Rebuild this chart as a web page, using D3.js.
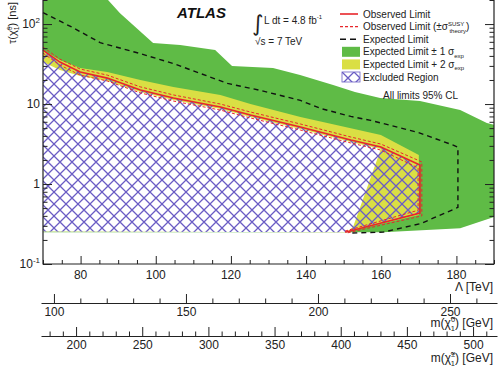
<!DOCTYPE html>
<html>
<head>
<meta charset="utf-8">
<script src="https://cdn.jsdelivr.net/npm/d3@7"></script>
<style>
body { margin: 0; background: #fff; }
svg { display: block; font-family: Arial, "Liberation Sans", sans-serif; }
</style>
</head>
<body>
<div id="chart"></div>
<script>
// Observed limit (red solid) - Lambda [TeV] and tau [ns]
const observedLambda = [70, 74.5, 79.9, 87.1, 95.9, 104.7, 117.2, 125.2, 138.5, 151.9, 159.9, 170.3, 170.3, 150.4];
const observedTau    = [47.3, 33.5, 25.1, 21.1, 15.0, 11.9, 9.17, 7.29, 5.16, 3.55, 2.9, 1.73, 0.434, 0.25];

// Observed limit +/- theory (red dashed)
const theoryUpLambda   = [70, 74.5, 79.9, 87.1, 95.9, 104.7, 117.2, 125.2, 138.5, 151.9, 159.9, 170.8, 170.8, 151];
const theoryUpTau      = [51.5, 36.5, 27.4, 23.0, 16.4, 13.0, 10.0, 7.95, 5.63, 3.87, 3.16, 1.89, 0.40, 0.245];
const theoryDownLambda = [70, 74.5, 79.9, 87.1, 95.9, 104.7, 117.2, 125.2, 138.5, 151.9, 159.9, 169.8, 169.8, 150];
const theoryDownTau    = [43.4, 30.7, 23.0, 19.4, 13.8, 10.9, 8.4, 6.7, 4.73, 3.26, 2.66, 1.59, 0.47, 0.255];

// Expected limit (black dashed)
const expectedLambda = [70, 78, 85.2, 95.9, 104.7, 111.9, 119.1, 127.9, 138.5, 143.9, 151.9, 157.2, 169.7, 179.3, 180.4, 180.4, 170.5, 160.5, 151.9];
const expectedTau    = [139, 90, 58.6, 42.7, 32.1, 24.1, 18.1, 14.8, 11.1, 8.8, 7.0, 6.25, 4.43, 3.05, 2.88, 0.51, 0.32, 0.25, 0.244];

// Expected +/- 1 sigma band outline (green)
const greenLambda = [70, 87.3, 90.5, 99.3, 106.5, 115.8, 120.3, 131.2, 138.4, 147.2, 153.0, 159.7, 170.3, 181.0, 188.1, 190, 190, 181, 160.5, 150.4, 70];
const greenTau    = [200, 200, 137, 57.9, 54.6, 47.3, 29.9, 28.2, 23.0, 17.3, 14.1, 11.9, 10.9, 8.4, 5.8, 5.5, 0.387, 0.28, 0.25, 0.25, 0.25];

// Expected +/- 2 sigma band outline (yellow)
const yellowLambda = [70, 74.5, 79.9, 87.1, 95.9, 104.7, 117.2, 125.2, 138.5, 151.9, 159.9, 170, 170, 150.4, 70];
const yellowTau    = [47.3, 35.5, 28.2, 25.1, 20.0, 16.3, 13.0, 10.0, 6.9, 5.0, 4.1, 2.3, 0.41, 0.25, 0.255];

// inner region not covered by the bands (white)
const innerLambda = [70, 74.5, 79.9, 87.1, 95.9, 104.7, 117.2, 125.2, 138.5, 151.9, 159.9, 152.5, 150.7, 70];
const innerTau    = [33.5, 26.6, 22.4, 19.4, 14.1, 11.2, 8.66, 6.88, 4.87, 3.35, 2.74, 0.29, 0.25, 0.255];

// axis ticks
const lambdaTicks = [80, 100, 120, 140, 160, 180];
const neutralinoTicks = [100, 150, 200, 250];
const charginoTicks = [200, 250, 300, 350, 400, 450, 500];
const tauTicks = [0.1, 1, 10, 100];
const tauTickLabels = [["10", "-1"], ["1", ""], ["10", ""], ["10", "2"]];

const legendLabels = ["Observed Limit", "Observed Limit", "Expected Limit", "Expected Limit \u00b1 1 \u03c3", "Expected Limit  + 2 \u03c3", "Excluded Region"];

const W = 502, H = 371;
const green = "#5fbb46", yellow = "#dadf44", red = "#e8262b", hatchColor = "#6a5cc4";

const svg = d3.select("#chart").append("svg")
    .attr("width", W)
    .attr("height", H);

const x = d3.scaleLinear().domain([70, 190]).range([43, 494]);
const y = d3.scaleLog().domain([0.1, 200]).range([264, 0]);
const mNeutralino = d3.scaleLinear().domain([95.1, 267.8]).range([41, 497]);
const mChargino = d3.scaleLinear().domain([173.5, 518.1]).range([41, 497]);

const defs = svg.append("defs");
const pat = defs.append("pattern")
    .attr("id", "hatch")
    .attr("patternUnits", "userSpaceOnUse")
    .attr("width", 12)
    .attr("height", 12);
pat.append("path")
    .attr("d", "M0,6L6,0L12,6L6,12Z")
    .attr("fill", "none")
    .attr("stroke", hatchColor)
    .attr("stroke-width", 1.3);

const zip = (lx, ly) => lx.map((v, i) => [v, ly[i]]);
const line = d3.line().x(d => x(d[0])).y(d => y(d[1]));

const plot = svg.append("g");
plot.append("path").attr("d", line(zip(greenLambda, greenTau)) + "Z").attr("fill", green);
plot.append("path").attr("d", line(zip(yellowLambda, yellowTau)) + "Z").attr("fill", yellow);
plot.append("path").attr("d", line(zip(innerLambda, innerTau)) + "Z").attr("fill", "#fff");
plot.append("path")
    .attr("d", line(zip(observedLambda, observedTau).concat([[70, 0.255]])) + "Z")
    .attr("fill", "url(#hatch)");

plot.append("path")
    .attr("d", line(zip(expectedLambda, expectedTau)))
    .attr("fill", "none")
    .attr("stroke", "#111")
    .attr("stroke-width", 1.4)
    .attr("stroke-dasharray", "5,4");

[[theoryUpLambda, theoryUpTau], [theoryDownLambda, theoryDownTau]].forEach(([lx, ly]) => {
    plot.append("path")
        .attr("d", line(zip(lx, ly)))
        .attr("fill", "none")
        .attr("stroke", red)
        .attr("stroke-width", 1)
        .attr("stroke-dasharray", "3,2");
});

plot.append("path")
    .attr("d", line(zip(observedLambda, observedTau)))
    .attr("fill", "none")
    .attr("stroke", red)
    .attr("stroke-width", 1.6);

// frame + main axes
const x0 = x.range()[0], x1 = x.range()[1], yb = y.range()[0];
const frame = svg.append("g").attr("stroke", "#222").attr("stroke-width", 1.2).attr("fill", "none");
frame.append("path").attr("d", `M${x0},0V${yb}H${x1}V0`);

const lambdaMinor = d3.range(70, 191, 5).filter(v => !lambdaTicks.includes(v));
const tauMinor = [];
[0.1, 1, 10, 100].forEach(dec => d3.range(2, 10).forEach(k => { if (k * dec <= 200) tauMinor.push(k * dec); }));

function tickAxis(axis, transform) {
    const g = svg.append("g").attr("transform", transform).call(axis);
    g.select(".domain").remove();
    g.selectAll("line").attr("stroke", "#222").attr("stroke-width", 1);
    g.selectAll("text").remove();
    return g;
}

tickAxis(d3.axisBottom(x).tickValues(lambdaTicks).tickSize(-8), `translate(0,${yb})`);
tickAxis(d3.axisBottom(x).tickValues(lambdaMinor).tickSize(-4), `translate(0,${yb})`);
tickAxis(d3.axisLeft(y).tickValues(tauTicks).tickSize(-9), `translate(${x0},0)`);
tickAxis(d3.axisLeft(y).tickValues(tauMinor).tickSize(-4.5), `translate(${x0},0)`);
tickAxis(d3.axisRight(y).tickValues(tauTicks).tickSize(-9), `translate(${x1},0)`);
tickAxis(d3.axisRight(y).tickValues(tauMinor).tickSize(-4.5), `translate(${x1},0)`);

const labels = svg.append("g").attr("fill", "#222").attr("font-size", 12);
lambdaTicks.forEach(v => {
    labels.append("text").attr("x", x(v)).attr("y", 279).attr("text-anchor", "middle").text(v);
});

tauTicks.forEach((v, i) => {
    const [base, exp] = tauTickLabels[i];
    const t = labels.append("text").attr("x", 40).attr("y", y(v) + 4).attr("text-anchor", "end");
    t.append("tspan").text(base);
    if (exp) t.append("tspan").attr("dy", -5).attr("font-size", 8).text(exp);
});

// chi-tilde label helper
function chiLabel(sel, pre, sup, post, size) {
    sel.append("tspan").text(pre + "\u03c7\u0303");
    sel.append("tspan").attr("font-size", size * 0.62).attr("dy", -size * 0.4).text(sup);
    sel.append("tspan").attr("font-size", size * 0.62).attr("dx", -size * 0.35).attr("dy", size * 0.7).text("1");
    sel.append("tspan").attr("dy", -size * 0.3).text(post);
}

labels.append("text").attr("x", 493).attr("y", 291).attr("text-anchor", "end")
    .text("\u039b [TeV]");

// secondary mass axes
function massAxis(scale, ticks, minorStart, minorEnd, yLine, titleY, sup) {
    const minor = d3.range(minorStart, minorEnd + 1, 10).filter(v => !ticks.includes(v));
    const g = svg.append("g").attr("transform", `translate(0,${yLine})`)
        .call(d3.axisBottom(scale).tickValues(ticks).tickSize(-9).tickSizeOuter(0).tickPadding(4));
    g.select(".domain").attr("stroke", "#222").attr("stroke-width", 1.2);
    g.selectAll("line").attr("stroke", "#222").attr("stroke-width", 1);
    g.selectAll("text").attr("font-size", 12).attr("font-family", "Arial, 'Liberation Sans', sans-serif").attr("fill", "#222");
    tickAxis(d3.axisBottom(scale).tickValues(minor).tickSize(-4.5), `translate(0,${yLine})`);
    const t = labels.append("text").attr("x", 493).attr("y", titleY).attr("text-anchor", "end");
    chiLabel(t, "m(", sup, ") [GeV]", 12);
}
massAxis(mNeutralino, neutralinoTicks, 100, 260, 303, 327, "0");
massAxis(mChargino, charginoTicks, 180, 510, 336, 362, "\u00b1");

// y axis title
const yt = svg.append("text")
    .attr("transform", "translate(16,2) rotate(-90)")
    .attr("text-anchor", "end")
    .attr("font-size", 11)
    .attr("fill", "#222");
yt.append("tspan").text("\u03c4(");
chiLabel(yt, "", "0", ") [ns]", 11);

// ATLAS + luminosity
svg.append("text").attr("x", 177).attr("y", 18)
    .attr("font-size", 15).attr("font-weight", "bold").attr("font-style", "italic")
    .attr("fill", "#111").text("ATLAS");
svg.append("text").attr("x", 252).attr("y", 31).attr("font-size", 22)
    .attr("font-family", "'DejaVu Sans', sans-serif").attr("fill", "#222").text("\u222b");
const lum = svg.append("text").attr("x", 264).attr("y", 24).attr("font-size", 10).attr("fill", "#222");
lum.append("tspan").text("L dt = 4.8 fb");
lum.append("tspan").attr("font-size", 6).attr("dy", -5).text("-1");
svg.append("text").attr("x", 255).attr("y", 45).attr("font-size", 10).attr("fill", "#222")
    .text("\u221as = 7 TeV");

// legend
const lg = svg.append("g").attr("font-size", 10).attr("fill", "#222");
const ly0 = 14, ldy = 12.6, lx0 = 340, lx1 = 358, ltx = 363;
lg.append("line").attr("x1", lx0).attr("x2", lx1).attr("y1", ly0).attr("y2", ly0)
    .attr("stroke", red).attr("stroke-width", 1.6);
lg.append("line").attr("x1", lx0).attr("x2", lx1).attr("y1", ly0 + ldy).attr("y2", ly0 + ldy)
    .attr("stroke", red).attr("stroke-width", 1.2).attr("stroke-dasharray", "3,2");
lg.append("line").attr("x1", lx0).attr("x2", lx1).attr("y1", ly0 + 2 * ldy).attr("y2", ly0 + 2 * ldy)
    .attr("stroke", "#111").attr("stroke-width", 1.6).attr("stroke-dasharray", "6,4");
lg.append("rect").attr("x", lx0 + 2).attr("y", ly0 + 3 * ldy - 5).attr("width", 18).attr("height", 10).attr("fill", green);
lg.append("rect").attr("x", lx0 + 2).attr("y", ly0 + 4 * ldy - 5).attr("width", 18).attr("height", 10).attr("fill", yellow);
lg.append("rect").attr("x", lx0 + 2).attr("y", ly0 + 5 * ldy - 5).attr("width", 18).attr("height", 10)
    .attr("fill", "url(#hatch)").attr("stroke", hatchColor).attr("stroke-width", 0.8);

legendLabels.forEach((lab, i) => {
    const t = lg.append("text").attr("x", ltx).attr("y", ly0 + i * ldy + 3.5);
    t.append("tspan").text(lab);
    if (i === 1) {
        t.append("tspan").text(" (\u00b1\u03c3");
        t.append("tspan").attr("font-size", 6).attr("dy", -4).text("SUSY");
        t.append("tspan").attr("font-size", 6).attr("dx", -15).attr("dy", 7).text("theory");
        t.append("tspan").attr("dy", -3).text(")");
    }
    if (i === 3 || i === 4) {
        t.append("tspan").attr("font-size", 6).attr("dy", 2.5).text("exp");
    }
});
lg.append("text").attr("x", 383).attr("y", 99).text("All limits 95% CL");
</script>
</body>
</html>
